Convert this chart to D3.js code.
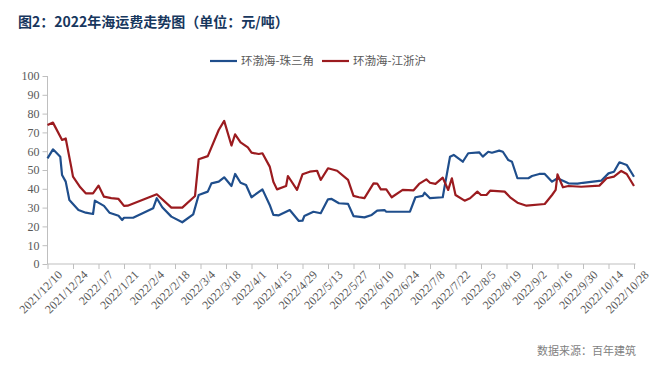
<!DOCTYPE html>
<html lang="zh">
<head>
  <meta charset="UTF-8" />
  <title>2022年海运费走势图</title>
  <script src="https://d3js.org/d3.v7.min.js"></script>
  <style>
    body {
      margin: 0;
      background: #fff;
    }
    svg {
      display: block;
    }
    .title {
      font-family: "Noto Sans CJK SC", sans-serif;
      font-size: 14px;
      font-weight: bold;
      fill: #17375e;
    }
    .legend, .source {
      font-family: "Noto Sans CJK SC", sans-serif;
      font-size: 11.5px;
      fill: #595959;
    }
    .source {
      fill: #7f7f7f;
      font-size: 11px;
    }
    .axis text {
      font-family: "Liberation Serif", serif;
      font-size: 12px;
      fill: #595959;
    }
    .axis path, .axis line {
      stroke: #bfbfbf;
    }
  </style>
</head>
<body>
  <svg id="chart" width="664" height="367"></svg>

  <script>
    // 环渤海-珠三角
    const blueDates = [
      "2021/12/10","2021/12/13","2021/12/17","2021/12/18","2021/12/20","2021/12/22","2021/12/27","2021/12/31",
      "2022/1/4","2022/1/5","2022/1/10","2022/1/13","2022/1/18","2022/1/20","2022/1/21","2022/1/26",
      "2022/2/6","2022/2/8","2022/2/11","2022/2/16","2022/2/22","2022/2/28",
      "2022/3/3","2022/3/8","2022/3/10","2022/3/14","2022/3/17","2022/3/21","2022/3/23","2022/3/26","2022/3/29",
      "2022/4/1","2022/4/7","2022/4/11","2022/4/13","2022/4/16","2022/4/20","2022/4/22","2022/4/27","2022/4/29","2022/4/30",
      "2022/5/5","2022/5/9","2022/5/13","2022/5/15","2022/5/19","2022/5/24","2022/5/27",
      "2022/6/2","2022/6/6","2022/6/9","2022/6/13","2022/6/14","2022/6/27","2022/6/30",
      "2022/7/4","2022/7/5","2022/7/8","2022/7/15","2022/7/16","2022/7/19","2022/7/21","2022/7/26","2022/7/29",
      "2022/8/4","2022/8/6","2022/8/9","2022/8/11","2022/8/15","2022/8/17","2022/8/20","2022/8/22","2022/8/25","2022/8/31",
      "2022/9/2","2022/9/6","2022/9/9","2022/9/13","2022/9/16","2022/9/22","2022/9/27","2022/9/30",
      "2022/10/10","2022/10/14","2022/10/17","2022/10/20","2022/10/24","2022/10/28"
    ];
    const blueValues = [
      56.2, 61, 57.1, 47.3, 43.8, 34, 28.7, 27.3,
      26.6, 33.7, 30.9, 27.3, 25.7, 23.4, 24.6, 24.6,
      29.6, 35, 30.2, 25.2, 22.2, 26.4,
      36.7, 38.5, 42.9, 43.8, 46.1, 41.5, 47.9, 43.2, 42,
      35.5, 39.7, 31.4, 26.1, 25.9, 27.8, 28.7, 22.9, 23, 25.5,
      27.8, 27, 34.4, 34.6, 32.3, 32, 25.5,
      24.8, 26.1, 28.4, 28.7, 27.8, 27.8, 35.5,
      36.2, 37.9, 35, 35.5, 41.1, 57.1, 58, 54.4, 58.9,
      59.4, 57.1, 59.7, 59.2, 60.3, 59.7, 55.3, 54.4, 45.6, 45.6,
      46.8, 47.9, 47.9, 43.8, 45.6, 42.9, 42.8, 43.2,
      44.3, 48.2, 49.1, 54.1, 52.7, 46.4
    ];

    // 环渤海-江浙沪
    const redDates = [
      "2021/12/10","2021/12/13","2021/12/18","2021/12/20","2021/12/23","2021/12/24","2021/12/28","2021/12/31",
      "2022/1/4","2022/1/7","2022/1/10","2022/1/14","2022/1/18","2022/1/21","2022/1/23",
      "2022/2/8","2022/2/16","2022/2/22",
      "2022/3/1","2022/3/3","2022/3/8","2022/3/14","2022/3/17","2022/3/21","2022/3/23","2022/3/26","2022/3/30",
      "2022/4/1","2022/4/5","2022/4/7","2022/4/11","2022/4/13","2022/4/15","2022/4/20","2022/4/21","2022/4/26","2022/4/29",
      "2022/5/3","2022/5/7","2022/5/9","2022/5/13","2022/5/18","2022/5/24","2022/5/27","2022/5/30",
      "2022/6/2","2022/6/7","2022/6/9","2022/6/11","2022/6/14","2022/6/17","2022/6/23","2022/6/29",
      "2022/7/2","2022/7/6","2022/7/8","2022/7/11","2022/7/15","2022/7/18","2022/7/20","2022/7/22","2022/7/27","2022/7/30",
      "2022/8/3","2022/8/5","2022/8/8","2022/8/10","2022/8/18","2022/8/21","2022/8/25","2022/8/30",
      "2022/9/9","2022/9/13","2022/9/15","2022/9/16","2022/9/19","2022/9/22","2022/9/29",
      "2022/10/9","2022/10/13","2022/10/17","2022/10/21","2022/10/24","2022/10/28"
    ];
    const redValues = [
      73.9, 75.2, 66, 66.8, 51.8, 46.5, 40.8, 37.6,
      37.6, 41.7, 35.8, 35, 34.6, 30.9, 31,
      37.1, 30, 30,
      36.2, 55.7, 57.4, 71.3, 76.1, 63, 69, 64.7, 62,
      59.2, 58.5, 58.9, 51.8, 43.8, 39.7, 41.5, 46.8, 39.4, 47.7,
      49.1, 49.6, 44.7, 50.9, 49.6, 44.7, 36.2, 35.5,
      35, 42.9, 42.8, 39.7, 39.7, 35.5, 39.4, 39.2,
      42.6, 45, 43.2, 42.6, 45.9, 39.4, 45.6, 36.7, 33.7, 35,
      38.5, 36.7, 36.7, 39, 38.5, 35.5, 32.6, 31,
      31.9, 36.7, 39.4, 47.7, 40.8, 41.5, 41.1,
      41.7, 45.6, 46.5, 49.5, 47.9, 41.5
    ];

    const seriesNames = ["环渤海-珠三角", "环渤海-江浙沪"];
    const seriesColors = ["#1f4e8c", "#9b1b1f"];
    const yTicks = [0, 10, 20, 30, 40, 50, 60, 70, 80, 90, 100];
    const xStart = "2021/12/10";
    const xEnd = "2022/10/28";

    const parse = d3.timeParse("%Y/%m/%d");
    const fmt = d => `${d.getFullYear()}/${d.getMonth() + 1}/${d.getDate()}`;

    const svg = d3.select("#chart");
    const margin = { left: 47.5, right: 30, top: 76, bottom: 103 };
    const width = 664 - margin.left - margin.right;
    const height = 367 - margin.top - margin.bottom;

    const x = d3.scaleTime()
      .domain([parse(xStart), parse(xEnd)])
      .range([0, width]);
    const y = d3.scaleLinear()
      .domain([0, 100])
      .range([height, 0]);

    const g = svg.append("g")
      .attr("transform", `translate(${margin.left},${margin.top})`);

    // title
    svg.append("text")
      .attr("class", "title")
      .attr("x", 18)
      .attr("y", 27)
      .text("图2：2022年海运费走势图（单位：元/吨）");

    // axes
    g.append("g")
      .attr("class", "axis")
      .call(d3.axisLeft(y).tickValues(yTicks).tickSize(5).tickPadding(3))
      .call(a => a.select(".domain").attr("d", `M0,${height}V0`));

    // a tick every two weeks
    const xTickDates = d3.timeDay.range(parse(xStart), d3.timeDay.offset(parse(xEnd), 1), 14);
    g.append("g")
      .attr("class", "axis")
      .attr("transform", `translate(0,${height})`)
      .call(d3.axisBottom(x).tickValues(xTickDates).tickFormat(fmt).tickSize(5).tickSizeOuter(0))
      .call(a => a.select(".domain").attr("d", `M0,0H${width + 1.5}`))
      .selectAll("text")
      .attr("text-anchor", "end")
      .attr("dx", "0.2em")
      .attr("dy", "0.9em")
      .attr("transform", "rotate(-45)");

    // lines
    const line = d3.line()
      .x(d => x(d[0]))
      .y(d => y(d[1]));

    const series = [
      blueDates.map((d, i) => [parse(d), blueValues[i]]),
      redDates.map((d, i) => [parse(d), redValues[i]])
    ];

    g.selectAll(".series")
      .data(series)
      .join("path")
      .attr("class", "series")
      .attr("fill", "none")
      .attr("stroke", (d, i) => seriesColors[i])
      .attr("stroke-width", 2.2)
      .attr("stroke-linejoin", "round")
      .attr("d", line);

    // legend
    const legend = svg.append("g")
      .attr("transform", "translate(210,61)");
    const items = legend.selectAll("g")
      .data(seriesNames)
      .join("g")
      .attr("transform", (d, i) => `translate(${i * 112},0)`);
    items.append("line")
      .attr("x1", 0).attr("x2", 27)
      .attr("stroke", (d, i) => seriesColors[i])
      .attr("stroke-width", 2.2);
    items.append("text")
      .attr("class", "legend")
      .attr("x", 31)
      .attr("dy", "0.35em")
      .text(d => d);

    // source
    svg.append("text")
      .attr("class", "source")
      .attr("x", 636)
      .attr("y", 355)
      .attr("text-anchor", "end")
      .text("数据来源：百年建筑");
  </script>
</body>
</html>
